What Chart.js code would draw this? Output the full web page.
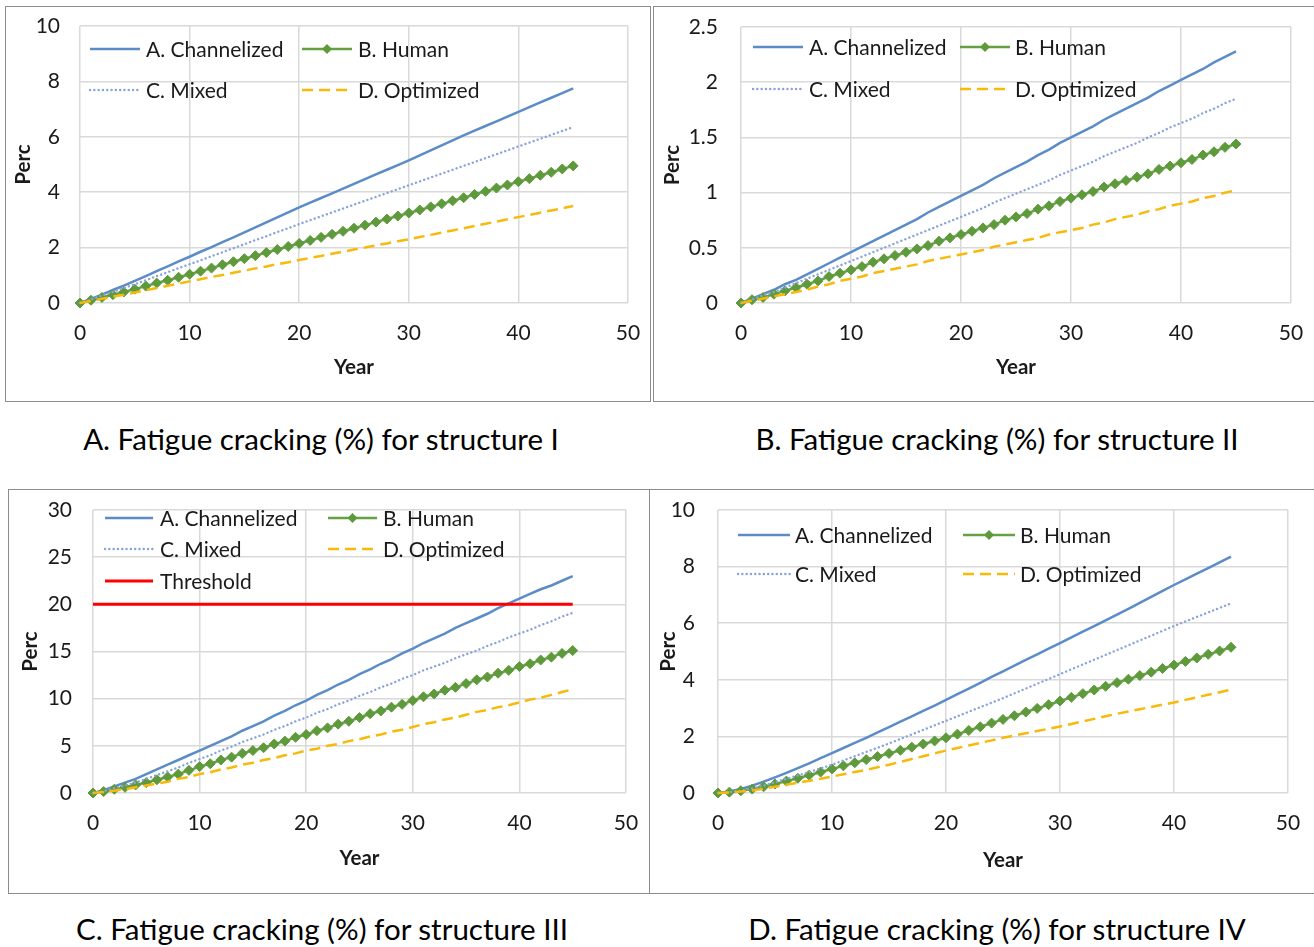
<!DOCTYPE html>
<html>
<head>
<meta charset="utf-8">
<script src="https://cdn.jsdelivr.net/npm/chart.js@4.4.1/dist/chart.umd.min.js"></script>
<style>
  body { margin: 0; background: #fff; width: 1314px; height: 947px; overflow: hidden; position: relative; font-family: Lato, "Open Sans", sans-serif; }
  .marco { position: absolute; border: 1px solid #8c8c8c; box-sizing: border-box; overflow: hidden; }
  .marco canvas { display: block; }
  .pie { position: absolute; font-size: 29.5px; color: #000; transform: translate(-50%, -50%); white-space: nowrap; }
</style>
</head>
<body>
<div class="marco" id="mA"><canvas id="cA"></canvas></div>
<div class="marco" id="mB"><canvas id="cB"></canvas></div>
<div class="marco" id="mC"><canvas id="cC"></canvas></div>
<div class="marco" id="mD"><canvas id="cD"></canvas></div>
<div class="pie" id="pA"></div>
<div class="pie" id="pB"></div>
<div class="pie" id="pC"></div>
<div class="pie" id="pD"></div>
<script>
// ---- datos ----
const years = [0,1,2,3,4,5,6,7,8,9,10,11,12,13,14,15,16,17,18,19,20,21,22,23,24,25,26,27,28,29,30,31,32,33,34,35,36,37,38,39,40,41,42,43,44,45];
const seriesNames = ["A. Channelized", "B. Human", "C. Mixed", "D. Optimized"];
const thresholdName = "Threshold";
const captions = [
  "A. Fatigue cracking (%) for structure I",
  "B. Fatigue cracking (%) for structure II",
  "C. Fatigue cracking (%) for structure III",
  "D. Fatigue cracking (%) for structure IV"
];
const yMax = [10, 2.5, 30, 10];
const yStep = [2, 0.5, 5, 2];
const xMax = 50;
const xStep = 10;

// estructura I
const channelizedI = [0,0.15,0.3,0.47,0.63,0.8,0.97,1.15,1.32,1.5,1.67,1.85,2.02,2.2,2.37,2.55,2.73,2.91,3.09,3.27,3.45,3.62,3.79,3.96,4.13,4.3,4.47,4.64,4.81,4.98,5.15,5.33,5.51,5.69,5.87,6.05,6.22,6.39,6.56,6.73,6.9,7.07,7.24,7.41,7.58,7.75];
const humanI = [0,0.1,0.2,0.3,0.4,0.5,0.61,0.72,0.82,0.93,1.04,1.15,1.26,1.38,1.49,1.6,1.71,1.82,1.93,2.04,2.15,2.26,2.37,2.48,2.59,2.7,2.81,2.92,3.03,3.14,3.25,3.36,3.47,3.58,3.69,3.8,3.92,4.03,4.15,4.26,4.38,4.49,4.61,4.72,4.84,4.95];
const mixedI = [0,0.13,0.27,0.4,0.54,0.68,0.82,0.97,1.11,1.26,1.4,1.54,1.69,1.83,1.98,2.12,2.27,2.41,2.56,2.7,2.85,2.99,3.13,3.27,3.41,3.55,3.69,3.83,3.97,4.11,4.25,4.39,4.53,4.67,4.81,4.95,5.09,5.23,5.37,5.51,5.65,5.79,5.93,6.07,6.21,6.35];
const optimizedI = [0,0.07,0.15,0.23,0.3,0.38,0.46,0.54,0.62,0.7,0.78,0.86,0.94,1.01,1.09,1.17,1.25,1.32,1.4,1.47,1.55,1.63,1.7,1.78,1.85,1.93,2.0,2.08,2.15,2.23,2.3,2.38,2.46,2.54,2.62,2.7,2.78,2.86,2.94,3.02,3.1,3.18,3.26,3.34,3.42,3.5];

// estructura II
const channelizedII = [0,0.04,0.08,0.12,0.17,0.21,0.26,0.31,0.36,0.41,0.46,0.51,0.56,0.61,0.66,0.71,0.76,0.82,0.87,0.92,0.97,1.02,1.07,1.13,1.18,1.23,1.28,1.34,1.39,1.45,1.5,1.55,1.6,1.66,1.71,1.76,1.81,1.86,1.92,1.97,2.02,2.07,2.12,2.18,2.23,2.28];
const humanII = [0,0.03,0.05,0.08,0.11,0.14,0.17,0.2,0.24,0.27,0.3,0.33,0.37,0.4,0.43,0.46,0.49,0.52,0.56,0.59,0.62,0.65,0.68,0.71,0.75,0.78,0.81,0.85,0.88,0.92,0.95,0.98,1.01,1.05,1.08,1.11,1.14,1.17,1.21,1.24,1.27,1.3,1.34,1.37,1.41,1.44];
const mixedII = [0,0.03,0.07,0.1,0.14,0.18,0.22,0.26,0.3,0.34,0.38,0.42,0.46,0.5,0.54,0.58,0.62,0.66,0.7,0.74,0.78,0.82,0.86,0.91,0.95,0.99,1.03,1.07,1.11,1.16,1.2,1.24,1.28,1.33,1.37,1.41,1.45,1.5,1.54,1.59,1.63,1.67,1.72,1.76,1.81,1.85];
const optimizedII = [0,0.02,0.04,0.06,0.08,0.1,0.12,0.15,0.17,0.2,0.22,0.24,0.27,0.29,0.31,0.33,0.35,0.38,0.4,0.42,0.44,0.46,0.48,0.51,0.53,0.55,0.57,0.59,0.62,0.64,0.66,0.68,0.71,0.73,0.76,0.78,0.8,0.83,0.85,0.88,0.9,0.92,0.95,0.97,1.0,1.02];

// estructura III
const channelizedIII = [0,0.3,0.7,1.1,1.5,2.0,2.5,3.0,3.5,4.0,4.5,5.0,5.5,6.0,6.6,7.1,7.6,8.2,8.7,9.3,9.8,10.4,10.9,11.5,12.0,12.6,13.1,13.7,14.2,14.8,15.3,15.9,16.4,16.9,17.5,18.0,18.5,19.0,19.6,20.1,20.6,21.1,21.6,22.0,22.5,23.0];
const humanIII = [0,0.15,0.4,0.6,0.85,1.1,1.4,1.7,2.0,2.4,2.8,3.1,3.5,3.8,4.2,4.5,4.8,5.2,5.5,5.9,6.2,6.6,6.9,7.3,7.6,8.0,8.4,8.7,9.1,9.4,9.8,10.2,10.5,10.9,11.2,11.6,12.0,12.3,12.7,13.0,13.4,13.7,14.1,14.4,14.8,15.1];
const mixedIII = [0,0.2,0.5,0.8,1.1,1.5,1.9,2.3,2.7,3.2,3.6,4.0,4.5,4.9,5.4,5.8,6.2,6.7,7.1,7.6,8.0,8.5,8.9,9.4,9.8,10.3,10.7,11.2,11.6,12.1,12.5,13.0,13.4,13.8,14.3,14.7,15.1,15.6,16.0,16.5,16.9,17.3,17.8,18.2,18.7,19.1];
const optimizedIII = [0,0.1,0.25,0.4,0.6,0.8,1.0,1.2,1.5,1.7,2.0,2.2,2.5,2.7,3.0,3.2,3.5,3.7,4.0,4.2,4.5,4.7,5.0,5.2,5.5,5.7,6.0,6.2,6.5,6.7,7.0,7.3,7.5,7.8,8.0,8.3,8.6,8.8,9.1,9.3,9.6,9.9,10.1,10.4,10.7,11.0];
const thresholdYears = [0, 45];
const thresholdIII = [20, 20];

// estructura IV
const channelizedIV = [0,0.05,0.14,0.26,0.4,0.55,0.71,0.88,1.05,1.23,1.41,1.59,1.77,1.95,2.14,2.33,2.52,2.71,2.9,3.09,3.29,3.49,3.69,3.89,4.1,4.3,4.5,4.7,4.9,5.1,5.3,5.5,5.7,5.9,6.1,6.3,6.51,6.72,6.93,7.14,7.35,7.55,7.75,7.95,8.15,8.35];
const humanIV = [0,0.03,0.08,0.14,0.22,0.32,0.42,0.52,0.63,0.74,0.85,0.96,1.07,1.18,1.29,1.4,1.51,1.62,1.73,1.84,1.95,2.08,2.21,2.34,2.47,2.6,2.73,2.86,2.99,3.12,3.25,3.38,3.51,3.64,3.77,3.9,4.02,4.15,4.27,4.4,4.52,4.65,4.77,4.9,5.02,5.15];
const mixedIV = [0,0.03,0.08,0.16,0.26,0.38,0.5,0.62,0.74,0.87,1.0,1.15,1.3,1.45,1.6,1.75,1.91,2.07,2.23,2.39,2.55,2.71,2.87,3.03,3.19,3.35,3.52,3.69,3.86,4.03,4.2,4.37,4.54,4.71,4.88,5.05,5.22,5.39,5.56,5.73,5.9,6.06,6.22,6.38,6.54,6.7];
const optimizedIV = [0,0.02,0.05,0.09,0.15,0.22,0.29,0.36,0.43,0.5,0.58,0.66,0.74,0.82,0.91,1.0,1.1,1.2,1.3,1.4,1.5,1.59,1.68,1.77,1.86,1.95,2.03,2.11,2.19,2.27,2.35,2.44,2.53,2.62,2.71,2.8,2.88,2.96,3.04,3.12,3.2,3.29,3.38,3.47,3.56,3.65];

// ---- estilos ----
const FONT = "Lato, 'Open Sans', sans-serif";
const TXT = "#1a1a1a";
const GRID = "#d9d9d9";
const estilos = [
  { borderColor: "#5b8cc8", borderWidth: 2.5, borderDash: [], pointRadius: 0 },
  { borderColor: "#66a042", borderWidth: 2.5, borderDash: [], pointRadius: 5, pointStyle: "rectRot", pointBackgroundColor: "#5e9a3b", pointBorderColor: "#5e9a3b", pointBorderWidth: 1 },
  { borderColor: "#8aa3dc", borderWidth: 2.4, borderDash: [0.1, 4.2], borderCapStyle: "round", pointRadius: 0 },
  { borderColor: "#f7b90a", borderWidth: 2.5, borderDash: [11, 6], pointRadius: 0 }
];
const estiloUmbral = { borderColor: "#ff0000", borderWidth: 3, borderDash: [], pointRadius: 0 };

// marcos, areas de grafico y leyendas (coordenadas de pagina)
const paneles = [
  { id: "A", frame: [5, 6, 646, 396], area: [80, 26, 628, 303], percX: 23, yearY: 367, tickPad: 20,
    series: [channelizedI, humanI, mixedI, optimizedI], caption: [321, 438],
    leyenda: { rows: [23, 64], cols: [[10, 60, 66], [222, 272, 278]] } },
  { id: "B", frame: [653, 6, 670, 396], area: [741, 27, 1291, 303], percX: 672, yearY: 367, tickPad: 23,
    series: [channelizedII, humanII, mixedII, optimizedII], caption: [997, 438],
    leyenda: { rows: [20, 62], cols: [[12, 62, 68], [219, 269, 274]] } },
  { id: "C", frame: [8, 489, 642, 405], area: [93, 510, 626, 793], percX: 30, yearY: 858, tickPad: 21,
    series: [channelizedIII, humanIII, mixedIII, optimizedIII], caption: [322, 928], umbral: thresholdIII,
    leyenda: { rows: [8, 39, 71], cols: [[12, 60, 67], [235, 284, 290]] } },
  { id: "D", frame: [649, 489, 670, 405], area: [718, 510, 1288, 793], percX: 668, yearY: 860, tickPad: 23,
    series: [channelizedIV, humanIV, mixedIV, optimizedIV], caption: [997, 928],
    leyenda: { rows: [25, 64], cols: [[20, 72, 77], [245, 297, 302]] } }
];

// dibuja la leyenda dentro del area del grafico, en dos columnas
const leyendaInterna = {
  id: "leyendaInterna",
  afterDraw(chart, args, opts) {
    const ctx = chart.ctx;
    const a = chart.chartArea;
    ctx.save();
    chart.data.datasets.forEach((ds, i) => {
      const row = opts.rows[Math.floor(i / 2)];
      const col = opts.cols[i % 2];
      const y = a.top + row;
      ctx.strokeStyle = ds.borderColor;
      ctx.lineWidth = ds.borderWidth;
      ctx.lineCap = ds.borderCapStyle || "butt";
      ctx.setLineDash(ds.borderDash || []);
      ctx.beginPath();
      ctx.moveTo(a.left + col[0], y);
      ctx.lineTo(a.left + col[1], y);
      ctx.stroke();
      ctx.setLineDash([]);
      if (ds.pointRadius > 0) {
        const cx = a.left + (col[0] + col[1]) / 2;
        const r = ds.pointRadius;
        ctx.fillStyle = ds.pointBackgroundColor;
        ctx.beginPath();
        ctx.moveTo(cx, y - r); ctx.lineTo(cx + r, y); ctx.lineTo(cx, y + r); ctx.lineTo(cx - r, y);
        ctx.closePath();
        ctx.fill();
      }
      ctx.fillStyle = TXT;
      ctx.font = "21px " + FONT;
      ctx.textBaseline = "middle";
      ctx.textAlign = "left";
      ctx.fillText(ds.label, a.left + col[2], y + 1);
    });
    ctx.restore();
  }
};

const TICK_FONT = { family: FONT, size: 21 };
const TITLE_FONT = { family: FONT, size: 20.5, weight: "bold" };
const LH = 20.5 * 1.2;
const PL = 4, PB = 6;

paneles.forEach((p, n) => {
  const marco = document.getElementById("m" + p.id);
  const [fx, fy, fw, fh] = p.frame;
  Object.assign(marco.style, { left: fx + "px", top: fy + "px", width: fw + "px", height: fh + "px" });
  const ix = fx + 1, iy = fy + 1, iw = fw - 2, ih = fh - 2;
  const canvas = document.getElementById("c" + p.id);
  canvas.width = iw; canvas.height = ih;
  canvas.style.width = iw + "px"; canvas.style.height = ih + "px";

  // area deseada en coordenadas del canvas
  const obj = { left: p.area[0] - ix, top: p.area[1] - iy, right: p.area[2] - ix, bottom: p.area[3] - iy };
  const caja = { anchoY: obj.left - PL, altoX: ih - obj.bottom - PB, top: obj.top, right: iw - obj.right };
  const padTituloY = p.percX - (ix + PL) - LH / 2;
  const padTituloX = (iy + ih) - PB - LH / 2 - p.yearY;

  const datasets = p.series.map((vals, i) => Object.assign({
    label: seriesNames[i],
    data: years.map((x, k) => ({ x: x, y: vals[k] })),
    tension: 0,
    fill: false,
    clip: 8,
    order: 4 - i
  }, estilos[i]));
  if (p.umbral) {
    datasets.push(Object.assign({
      label: thresholdName,
      data: thresholdYears.map((x, k) => ({ x: x, y: p.umbral[k] })),
      tension: 0, fill: false, clip: 8, order: 0
    }, estiloUmbral));
  }

  const chart = new Chart(canvas, {
    type: "line",
    data: { datasets: datasets },
    options: {
      responsive: false,
      animation: false,
      events: [],
      layout: { padding: { left: PL, top: caja.top, right: caja.right, bottom: PB } },
      plugins: {
        legend: { display: false },
        tooltip: { enabled: false },
        leyendaInterna: p.leyenda
      },
      scales: {
        x: {
          type: "linear", min: 0, max: xMax,
          ticks: { stepSize: xStep, color: TXT, font: TICK_FONT, padding: 18, maxRotation: 0 },
          grid: { color: GRID, lineWidth: 1.5, drawTicks: false },
          border: { display: false },
          title: { display: true, text: "Year", color: TXT, font: TITLE_FONT, padding: { top: 0, bottom: padTituloX } },
          afterFit: (s) => { s.height = caja.altoX; s.paddingLeft = 0; s.paddingRight = 0; }
        },
        y: {
          type: "linear", min: 0, max: yMax[n],
          ticks: { stepSize: yStep[n], color: TXT, font: TICK_FONT, padding: p.tickPad, callback: (v) => String(v) },
          grid: { color: GRID, lineWidth: 1.5, drawTicks: false },
          border: { display: false },
          title: { display: true, text: "Perc", color: TXT, font: TITLE_FONT, padding: { top: padTituloY, bottom: 0 } },
          afterFit: (s) => { s.width = caja.anchoY; s.paddingTop = 0; s.paddingBottom = 0; }
        }
      }
    },
    plugins: [leyendaInterna]
  });

  // ajusta los margenes si el area del grafico no cae donde debe
  for (let k = 0; k < 3; k++) {
    const ca = chart.chartArea;
    const dl = obj.left - ca.left, dt = obj.top - ca.top, dr = ca.right - obj.right, db = ca.bottom - obj.bottom;
    if (Math.abs(dl) + Math.abs(dt) + Math.abs(dr) + Math.abs(db) < 0.3) break;
    caja.anchoY += dl;
    caja.top += dt;
    caja.right += dr;
    caja.altoX += db;
    chart.config.options.layout.padding = { left: PL, top: caja.top, right: caja.right, bottom: PB };
    chart.update();
  }

  const pie = document.getElementById("p" + p.id);
  pie.textContent = captions[n];
  pie.style.left = p.caption[0] + "px";
  pie.style.top = p.caption[1] + "px";
});
</script>
</body>
</html>
